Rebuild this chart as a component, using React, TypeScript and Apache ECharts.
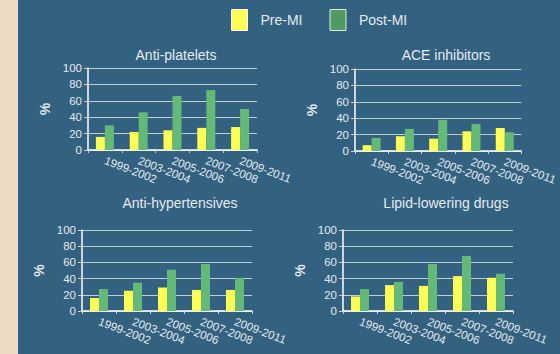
import React, { useEffect, useRef } from "react";
import * as echarts from "echarts";

const periods = ["1999-2002", "2003-2004", "2005-2006", "2007-2008", "2009-2011"];
const titles = ["Anti-platelets", "ACE inhibitors", "Anti-hypertensives", "Lipid-lowering drugs"];
const yTicks = [0, 20, 40, 60, 80, 100];

const antiPlateletsPre = [16, 22, 24, 27, 28];
const antiPlateletsPost = [30, 46, 66, 73, 50];
const acePre = [7, 18, 15, 24, 28];
const acePost = [16, 27, 38, 33, 23];
const antiHypPre = [16, 25, 29, 26, 26];
const antiHypPost = [27, 35, 51, 58, 41];
const lipidPre = [18, 32, 31, 43, 41];
const lipidPost = [27, 36, 58, 68, 46];

const preSeries = [antiPlateletsPre, acePre, antiHypPre, lipidPre];
const postSeries = [antiPlateletsPost, acePost, antiHypPost, lipidPost];

const FONT = "Liberation Sans, Arial, sans-serif";
const BG = "#336180";
const YELLOW = "#ffff55";
const GREEN = "#65b978";
const LEGEND_GREEN = "#4f9a63";
const TEXT = "#e4eaee";

const grids = [
  { left: 88, top: 68, width: 169, height: 82 },
  { left: 355, top: 69, width: 169, height: 82 },
  { left: 82, top: 230, width: 170, height: 81 },
  { left: 343, top: 230, width: 170, height: 81 },
];
const titlePos = [
  { x: 171, y: 43 },
  { x: 441, y: 43 },
  { x: 175, y: 191 },
  { x: 441, y: 191 },
];

export default function App() {
  const ref = useRef<HTMLDivElement>(null);
  useEffect(() => {
    if (!ref.current) return;
    const chart = echarts.init(ref.current, null, { renderer: "svg" });
    const option: any = {
      animation: false,
      backgroundColor: BG,
      textStyle: { fontFamily: FONT },
      title: titles.map((t, i) => ({
        text: t,
        left: titlePos[i].x,
        top: titlePos[i].y,
        textAlign: "center",
        textStyle: { color: TEXT, fontSize: 14, fontWeight: "normal", fontFamily: FONT },
      })),
      legend: {
        top: 4,
        left: 226,
        itemWidth: 16,
        itemHeight: 21,
        itemGap: 27,
        textStyle: { color: TEXT, fontSize: 14, fontFamily: FONT, padding: [0, 0, 0, 8] },
        data: [
          { name: "Pre-MI", icon: "rect", itemStyle: { color: YELLOW, borderColor: "#ffffff", borderWidth: 1 } },
          { name: "Post-MI", icon: "rect", itemStyle: { color: LEGEND_GREEN, borderColor: "#d8e8dc", borderWidth: 1 } },
        ],
      },
      graphic: [
        { type: "rect", left: 0, top: 0, shape: { x: 0, y: 0, width: 18, height: 354 }, style: { fill: "#ecdcc6" } },
      ],
      grid: grids.map((g) => ({ ...g, containLabel: false })),
      xAxis: grids.map((_, i) => ({
        type: "category",
        gridIndex: i,
        data: periods,
        axisLine: { lineStyle: { color: "#ffffff", width: 1.5 } },
        axisTick: { show: true, length: 3, lineStyle: { color: "#c8d2da" } },
        axisLabel: { rotate: -21, color: TEXT, fontSize: 11.5, margin: 10, interval: 0, fontFamily: FONT },
      })),
      yAxis: grids.map((_, i) => ({
        type: "value",
        gridIndex: i,
        min: 0,
        max: 100,
        interval: 20,
        name: "%",
        nameLocation: "middle",
        nameGap: 36,
        nameRotate: 90,
        nameTextStyle: { color: TEXT, fontSize: 14, fontWeight: "bold", fontFamily: FONT },
        axisLine: { show: true, lineStyle: { color: "#ffffff", width: 1.5 } },
        axisTick: { show: true, length: 4, lineStyle: { color: "#c8d2da" } },
        axisLabel: { color: TEXT, fontSize: 11.5, margin: 6, fontFamily: FONT,
          formatter: (v: number) => (yTicks.includes(v) ? String(v) : "") },
        splitLine: { show: true, lineStyle: { color: "#c3ccd4", width: 1 } },
      })),
      series: [
        ...preSeries.map((d, i) => ({
          name: "Pre-MI",
          type: "bar",
          xAxisIndex: i,
          yAxisIndex: i,
          data: d,
          barWidth: 9,
          barGap: "0%",
          itemStyle: { color: YELLOW },
        })),
        ...postSeries.map((d, i) => ({
          name: "Post-MI",
          type: "bar",
          xAxisIndex: i,
          yAxisIndex: i,
          data: d,
          barWidth: 9,
          barGap: "0%",
          itemStyle: { color: GREEN },
        })),
      ],
    };
    chart.setOption(option);
    return () => chart.dispose();
  }, []);
  return (
    <div
      ref={ref}
      style={{ position: "fixed", left: 0, top: 0, width: 560, height: 354 }}
    />
  );
}
